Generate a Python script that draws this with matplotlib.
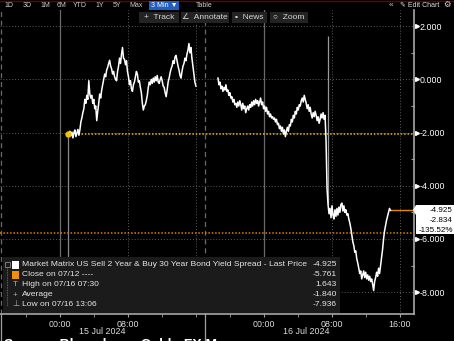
import matplotlib
matplotlib.use("Agg")
import matplotlib.pyplot as plt
import matplotlib.dates as mdates
import matplotlib.transforms as mtransforms
from matplotlib.patches import Rectangle, Polygon
from matplotlib.ticker import FuncFormatter, MultipleLocator
import pandas as pd

plt.rcParams['font.family'] = ['Liberation Sans', 'DejaVu Sans']

# --- data (2s30s spread, bp) ---
bar_minutes = 7
session1_start = "2024-07-15 00:56"
session1_values = [
    -2.05, -2.0, -1.95, -2.12, -1.98, -2.2, -2.0, -1.9, -2.15, -2.02, -1.88, -2.1, -1.9,
    -1.6, -1.45, -1.25, -1.1, -0.75, -0.9, -0.6, -0.75, -0.05, -0.55, -0.7, -0.6, -0.9,
    -0.75, -1.1, -1.0, -1.55, -1.2, -0.9, -0.55, -0.7, -0.4, -0.2, 0.0, 0.2, 0.1, 0.35,
    0.45, 0.6, 0.72, 0.5, 0.4, 0.2, 0.3, 0.1, 0.0, -0.05, 0.3, 0.5, 0.8, 0.6, 0.95, 1.2,
    0.8, 0.75, 0.55, 0.7, 0.3, 0.1, -0.2, -0.05, -0.35, -0.45, -0.2, -0.1, 0.1, 0.3, 0.2,
    -0.1, -0.05, -0.3, -0.5, -0.9, -1.15, -1.0, -0.95, -0.8, -0.6, -0.3, -0.1, -0.2, 0.0,
    -0.15, 0.05, -0.1, 0.1, -0.05, 0.15, -0.1, -0.15, 0.0, 0.1, -0.05, -0.25, -0.3, -0.5,
    -0.65, -0.4, -0.1, 0.05, 0.25, 0.4, 0.5, 0.7, 0.6, 0.85, 0.9, 0.7, 0.5, 0.35, 0.15,
    0.05, 0.3, 0.5, 0.6, 0.8, 0.7, 0.95, 1.1, 1.35, 1.0, 1.2, 0.8, 0.5, 0.2, -0.1, -0.25,
]
session2_start = "2024-07-15 18:35"
session2_values = [
    0.05, -0.2, -0.1, -0.35, -0.25, -0.45, -0.3, -0.4, -0.2, -0.45, -0.4, -0.6, -0.5, -0.7,
    -0.65, -0.85, -0.75, -0.95, -0.9, -1.05, -0.85, -1.0, -0.8, -0.95, -1.15, -0.9, -1.1,
    -1.0, -1.25, -1.1, -1.0, -1.15, -0.95, -1.05, -0.85, -1.0, -0.8, -0.95, -0.75, -0.9,
    -0.8, -1.0, -0.85, -0.7, -0.95, -0.85, -1.1, -1.0, -1.2, -1.05, -1.3, -1.2, -1.4, -1.3,
    -1.45, -1.4, -1.5, -1.45, -1.6, -1.5, -1.7, -1.65, -1.85, -1.75, -1.95, -1.8, -2.05,
    -1.9, -2.15, -1.95, -1.8, -1.95, -1.7, -1.75, -1.5, -1.6, -1.35, -1.45, -1.2, -1.3,
    -1.05, -1.15, -0.95, -1.0, -0.8, -0.7, -0.85, -0.6, -0.75, -0.9, -1.1, -0.95, -1.2,
    -1.05, -1.3, -1.45, -1.25, -1.4, -1.2, -1.35, -1.55, -1.4, -1.65, -1.5, -1.3, -1.45,
    -1.25, -1.5, -1.35, -2.3, -4.1, -4.7, -5.05, -4.85, -5.2, -4.75, -5.1, -5.25, -4.9,
    -5.15, -4.85, -5.1, -4.8, -5.0, -4.7, -4.65, -4.95, -4.75, -5.0, -4.9, -5.1, -5.05,
    -5.25, -5.4, -5.6, -5.85, -6.1, -6.25, -6.5, -6.45, -6.75, -6.9, -7.1, -7.3, -7.2,
    -7.5, -7.35, -7.2, -7.45, -7.25, -7.5, -7.35, -7.55, -7.4, -7.6, -7.5, -7.7, -7.94,
    -7.6, -7.45, -7.25, -7.4, -7.1, -7.3, -7.0, -6.7, -6.4, -6.0, -5.7, -5.5, -5.3, -5.15,
    -5.0, -4.85, -4.925,
]
prev_close = -5.761
last_price = -4.925
high_time = "2024-07-16 07:30"
high_value = 1.643

legend_labels = [
    "Market Matrix US Sell 2 Year & Buy 30 Year Bond Yield Spread - Last Price",
    "Close on 07/12 ----",
    "High on 07/16 07:30",
    "Average",
    "Low on 07/16 13:06",
]
legend_values = ["-4.925", "-5.761", "1.643", "-1.840", "-7.936"]
quote_lines = ["-4.925", "-2.834", "-135.52%"]

y_ticks = [2, 0, -2, -4, -6, -8]
x_ticks = ["2024-07-15 00:00", "2024-07-15 08:00", "2024-07-16 00:00",
           "2024-07-16 08:00", "2024-07-16 16:00"]
day_breaks = ["2024-07-14 17:00", "2024-07-15 17:00", "2024-07-16 17:00"]
day_labels = ["15 Jul 2024", "16 Jul 2024"]
midnights = ["2024-07-15 00:00", "2024-07-16 00:00"]
x_left, x_right = "2024-07-14 16:56", "2024-07-16 17:39"

W, H = 454, 341
def fx(x): return x / W
def fy(y): return 1 - y / H

fig = plt.figure(figsize=(W / 100, H / 100), dpi=100, facecolor="black")
ax = fig.add_axes([0, fy(314), fx(414), (314 - 10) / H])
ax.set_facecolor("black")

t1 = pd.date_range(session1_start, periods=len(session1_values), freq=f"{bar_minutes}min")
t2 = pd.date_range(session2_start, periods=len(session2_values), freq=f"{bar_minutes}min")
xl, xr = pd.Timestamp(x_left), pd.Timestamp(x_right)

# grid / session lines
for y in y_ticks:
    ax.axhline(y, color="#5c5c5c", ls=(0, (1, 2)), lw=0.7, zorder=1)
for t in ["2024-07-15 08:00", "2024-07-15 16:00", "2024-07-16 08:00", "2024-07-16 16:00"]:
    ax.axvline(pd.Timestamp(t), color="#5c5c5c", ls=(0, (1, 2)), lw=0.7, zorder=1)
for t in midnights:
    ax.axvline(pd.Timestamp(t), color="#6a6a6a", lw=0.9, zorder=1)
for t in day_breaks[:2]:
    ax.axvline(pd.Timestamp(t), color="#6a6a6a", ls=(0, (4, 3)), lw=0.9, zorder=1)

# reference lines
ax.axhline(prev_close, color="#d98200", ls=(0, (1, 1.2)), lw=1.1, zorder=2)
ax.hlines(session1_values[0], t1[0], xr, color="#e8b900", ls=(0, (1, 1.2)), lw=1.1, zorder=2)
ax.hlines(last_price, t2[-1], xr, color="#e08a00", lw=1.0, zorder=2)
ax.vlines(t1[0], -9, session1_values[0], color="#8a8a8a", lw=0.9, zorder=2)
hi_t = pd.Timestamp(high_time)
ax.vlines(hi_t, session2_values[t2.get_indexer([hi_t], method="nearest")[0]], high_value,
          color="#9a9a9a", lw=0.9, zorder=2)

# price
ax.plot(t1, session1_values, color="white", lw=1.1, zorder=3)
ax.plot(t2, session2_values, color="white", lw=1.1, zorder=3)
ax.plot(t1[0], session1_values[0], "o", color="#f2c200", ms=3.5, zorder=4)

ax.set_xlim(xl, xr)
ax.set_ylim(-8.82, 2.61)

# axes
for s in ["top", "left"]:
    ax.spines[s].set_visible(False)
for s in ["right", "bottom"]:
    ax.spines[s].set_color("#a8a8a8")
    ax.spines[s].set_linewidth(1.2)

ax.yaxis.tick_right()
ax.set_yticks(y_ticks)
ax.yaxis.set_major_formatter(FuncFormatter(lambda v, p: f"{v:.3f}"))
ax.yaxis.set_minor_locator(MultipleLocator(1))
ax.tick_params(axis="y", which="major", length=0, pad=4.2, labelsize=6.4, labelcolor="white")
ax.tick_params(axis="y", which="minor", length=2.5, direction="in", color="#999999", width=0.8)
ytrans = mtransforms.blended_transform_factory(ax.transAxes, ax.transData)
ax.plot([1.008] * len(y_ticks), y_ticks, marker=">", ls="none", color="white", ms=2.8,
        transform=ytrans, clip_on=False)

ax.set_xticks([pd.Timestamp(t) for t in x_ticks])
ax.xaxis.set_major_formatter(mdates.DateFormatter("%H:%M"))
ax.xaxis.set_minor_locator(mdates.HourLocator(byhour=[0, 4, 8, 12, 16, 20]))
ax.tick_params(axis="x", which="major", length=2.5, color="#a0a0a0", labelsize=6.4,
               labelcolor="#dddddd", pad=1.5)
ax.tick_params(axis="x", which="minor", length=2, color="#a0a0a0")

xtrans = mtransforms.blended_transform_factory(ax.transData, ax.transAxes)
for t in day_breaks[:2]:
    ax.plot([pd.Timestamp(t)] * 2, [0, -0.1], color="#a0a0a0", lw=0.9,
            transform=xtrans, clip_on=False)
for i, lab in enumerate(day_labels):
    a, b = pd.Timestamp(day_breaks[i]), pd.Timestamp(day_breaks[i + 1])
    ax.text(a + (b - a) / 2, -0.058, lab, transform=xtrans, ha="center", va="center",
            fontsize=6.4, color="#dddddd")

# legend panel
fig.add_artist(Rectangle((fx(3), fy(313)), fx(337), 56 / H, transform=fig.transFigure,
                         facecolor="#1b1b1b", edgecolor="none", zorder=5))
fig.add_artist(plt.Line2D([fx(7), fx(7)], [fy(268), fy(306)], transform=fig.transFigure,
                          color="#777777", lw=0.6, ls=(0, (1, 1)), zorder=6))
fig.add_artist(Rectangle((fx(4.5), fy(267)), fx(5), 5 / H, transform=fig.transFigure,
                         facecolor="none", edgecolor="#888888", lw=0.6, zorder=6))
icons = [None, None, "T", "+", "⊥"]
for i, (lab, val) in enumerate(zip(legend_labels, legend_values)):
    yc = 265 + 10 * i
    if i == 0 or i == 1:
        fig.add_artist(Rectangle((fx(12), fy(yc + 4)), fx(7), 8 / H, transform=fig.transFigure,
                                 facecolor="white" if i == 0 else "#f0900a",
                                 edgecolor="none", zorder=6))
    else:
        fig.text(fx(15.5), fy(yc), icons[i], ha="center", va="center", fontsize=6,
                 color="#aaaaaa", zorder=6)
    fig.text(fx(22), fy(yc), lab, ha="left", va="center", fontsize=6.1, color="#e6e6e6", zorder=6)
    fig.text(fx(337), fy(yc), val, ha="right", va="center", fontsize=6.1, color="#e6e6e6", zorder=6)

# last price box
fig.add_artist(Polygon([(fx(413), fy(210)), (fx(416), fy(205)), (fx(454), fy(205)),
                        (fx(454), fy(234)), (fx(416), fy(234)), (fx(416), fy(215))],
                       closed=True, transform=fig.transFigure, facecolor="white",
                       edgecolor="none", zorder=7))
for i, q in enumerate(quote_lines):
    fig.text(fx(453), fy(210 + 10.3 * i), q, ha="right", va="center", fontsize=5.8,
             color="black", zorder=8)

# toolbar
fig.add_artist(plt.Line2D([0, 1], [fy(0.5), fy(0.5)], transform=fig.transFigure,
                          color="#6a0000", lw=1, zorder=6))
buttons = ["1D", "3D", "1M", "6M", "YTD", "1Y", "5Y", "Max"]
button_x = [9, 27, 45, 62, 80, 100, 117, 136]
for b, x in zip(buttons, button_x):
    fig.text(fx(x), fy(5.5), b, ha="center", va="center", fontsize=5, color="#cccccc", zorder=6)
fig.add_artist(Rectangle((fx(149), fy(10)), fx(30), 9 / H, transform=fig.transFigure,
                         facecolor="#1f5fc0", edgecolor="none", zorder=6))
fig.text(fx(164), fy(5.5), "3 Min ▼", ha="center", va="center", fontsize=5, color="white", zorder=7)
fig.text(fx(204), fy(5.5), "Table", ha="center", va="center", fontsize=5, color="#cccccc", zorder=6)
fig.text(fx(391), fy(5.5), "«", ha="center", va="center", fontsize=6, color="#cccccc", zorder=6)
fig.text(fx(420), fy(5.5), "✎ Edit Chart", ha="center", va="center", fontsize=5,
         color="#dddddd", zorder=6)
fig.text(fx(447), fy(5.5), "⚙", ha="center", va="center", fontsize=6, color="#dddddd", zorder=6)

tools = [("+  Track", 139, 40), ("∠  Annotate", 181, 48), ("▪  News", 232, 35), ("○  Zoom", 270, 38)]
for lab, x0, w in tools:
    fig.add_artist(Rectangle((fx(x0), fy(23)), fx(w), 11 / H, transform=fig.transFigure,
                             facecolor="#232323", edgecolor="none", zorder=6))
    fig.text(fx(x0 + w / 2), fy(17.5), lab, ha="center", va="center", fontsize=6,
             color="#d8d8d8", zorder=7)

fig.text(fx(4), fy(337.5), "Source: Bloomberg, Cobb, FX Macro", ha="left", va="top",
         fontsize=10, fontweight="bold", color="white")

fig.savefig("out.png", dpi=100, facecolor="black")
